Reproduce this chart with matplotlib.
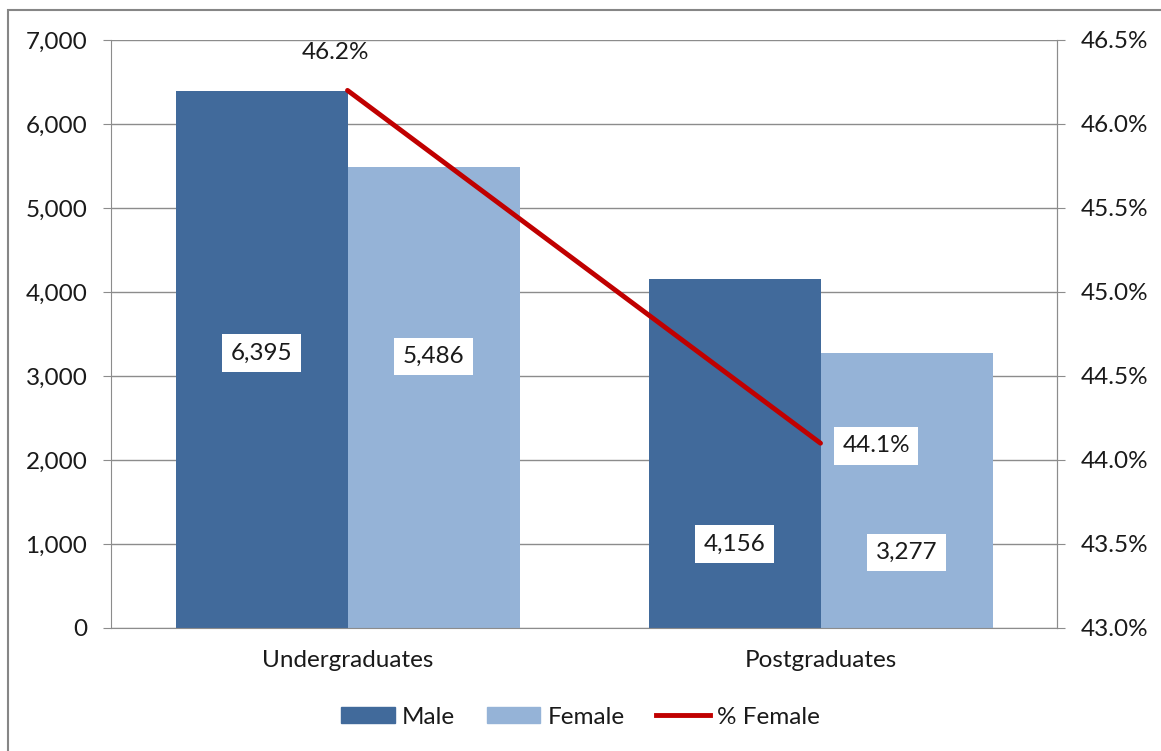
import numpy as np
import matplotlib.pyplot as plt
from matplotlib.patches import Rectangle
from matplotlib.lines import Line2D
from matplotlib.ticker import FuncFormatter

categories = ["Undergraduates", "Postgraduates"]
male = [6395, 4156]
female = [5486, 3277]
pct_female = [46.2, 44.1]

MALE_COLOR = "#416A9B"
FEMALE_COLOR = "#95B3D7"
LINE_COLOR = "#C00000"
GRID = "#8C8C8C"

plt.rcParams['font.family'] = ['Lato', 'DejaVu Sans']
plt.rcParams['font.size'] = 17.5
plt.rcParams['text.color'] = '#1a1a1a'

fig = plt.figure(figsize=(11.61, 7.51), dpi=100)
fig.patches.append(Rectangle((8 / 1161, -0.1), 1.2, 1 - 10 / 751 + 0.1, transform=fig.transFigure,
                             fill=False, edgecolor="#868686", linewidth=1.5))

ax = fig.add_axes([111 / 1161, 1 - 628 / 751, 946 / 1161, 588 / 751])
x = np.arange(len(categories))
w = 172 / 473
ax.bar(x - w / 2, male, w, color=MALE_COLOR, label="Male", zorder=2)
ax.bar(x + w / 2, female, w, color=FEMALE_COLOR, label="Female", zorder=2)
ax.set_xlim(-0.5, 1.5)
ax.set_ylim(0, 7000)
ax.set_yticks(range(0, 7001, 1000))
ax.yaxis.set_major_formatter(FuncFormatter(lambda v, p: f"{int(v):,}"))
ax.set_xticks(x)
ax.set_xticklabels(categories)
ax.tick_params(axis='x', length=0, pad=16, labelcolor='#1a1a1a')
ax.tick_params(axis='y', length=6, color=GRID, pad=11, labelcolor='#1a1a1a')
ax.grid(axis='y', color=GRID, linewidth=1, zorder=0)
ax.spines['top'].set_visible(False)
for s in ['left', 'bottom', 'right']:
    ax.spines[s].set_color(GRID)

# data labels (placed by hand in the original)
label_y = [(3274, 3232), (1000, 899)]
for i in range(len(categories)):
    ax.text(x[i] - w / 2, label_y[i][0], f"{male[i]:,}", ha='center', va='center', zorder=5,
            bbox=dict(facecolor='white', edgecolor='none', pad=6))
    ax.text(x[i] + w / 2, label_y[i][1], f"{female[i]:,}", ha='center', va='center', zorder=5,
            bbox=dict(facecolor='white', edgecolor='none', pad=6))

ax2 = ax.twinx()
ax2.set_ylim(43.0, 46.5)
ax2.set_yticks(np.arange(43.0, 46.51, 0.5))
ax2.yaxis.set_major_formatter(FuncFormatter(lambda v, p: f"{v:.1f}%"))
ax2.plot(x, pct_female, color=LINE_COLOR, linewidth=3.5, solid_capstyle='round', zorder=4)
ax2.tick_params(axis='y', length=6, color=GRID, pad=11, labelcolor='#1a1a1a')
for s in ['top', 'left', 'bottom']:
    ax2.spines[s].set_visible(False)
ax2.spines['right'].set_color(GRID)

ax2.annotate(f"{pct_female[0]:.1f}%", (x[0], pct_female[0]), xytext=(-9, 27),
             textcoords='offset points', ha='center', va='center')
ax2.annotate(f"{pct_female[1]:.1f}%", (x[1], pct_female[1]), xytext=(40, -2),
             textcoords='offset points', ha='center', va='center',
             bbox=dict(facecolor='white', edgecolor='none', pad=6))

handles = [Rectangle((0, 0), 1, 1, color=MALE_COLOR),
           Rectangle((0, 0), 1, 1, color=FEMALE_COLOR),
           Line2D([0], [0], color=LINE_COLOR, linewidth=3.5)]
fig.legend(handles, ["Male", "Female", "% Female"], loc='center', bbox_to_anchor=(0.5, 1 - 717 / 751),
           ncol=3, frameon=False, handlelength=2.2, handleheight=0.65, handletextpad=0.3, columnspacing=1.3)

fig.savefig("out.png", dpi=100)
